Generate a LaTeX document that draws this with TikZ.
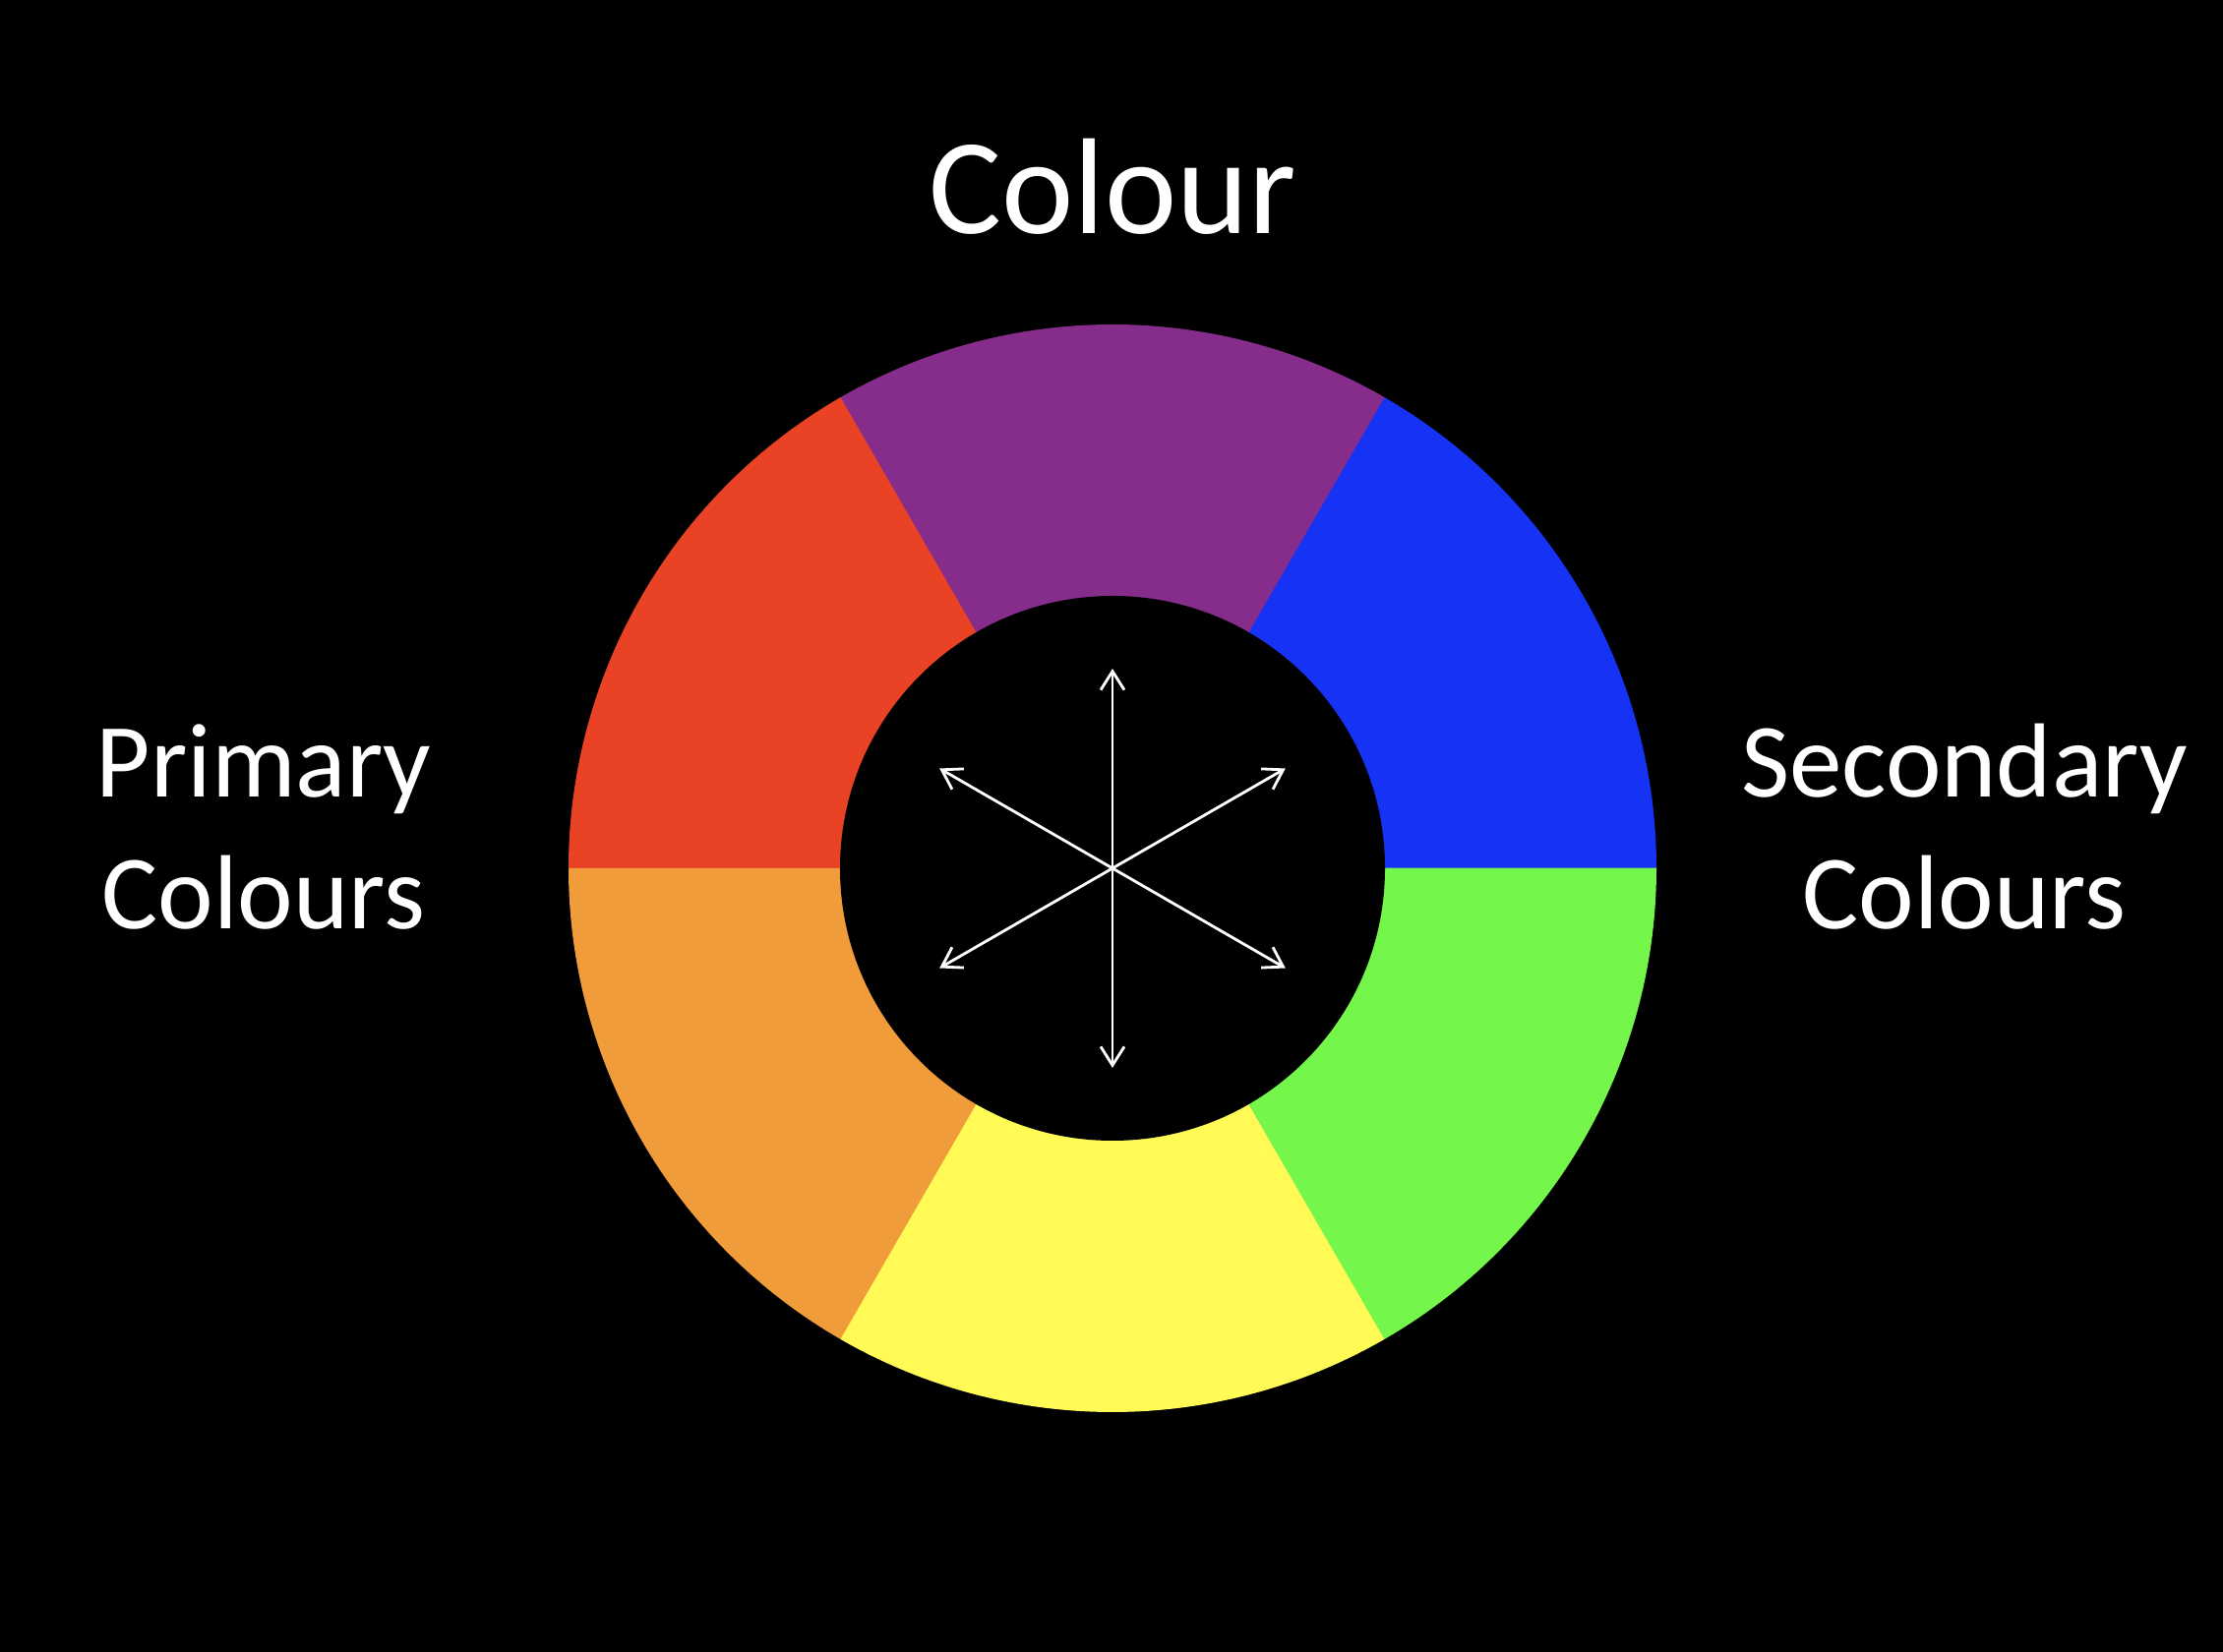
\documentclass[tikz,border=0pt]{standalone}
\usepackage{fontspec}
\setmainfont{Carlito}
\usetikzlibrary{arrows.meta,calc}
\definecolor{cpurple}{RGB}{134,45,140}
\definecolor{cblue}{RGB}{22,50,245}
\definecolor{cred}{RGB}{233,66,37}
\definecolor{corange}{RGB}{240,156,58}
\definecolor{cyellow}{RGB}{255,250,85}
\definecolor{cgreen}{RGB}{116,247,74}
\tikzset{
  bigtitle/.style={text=white, font=\fontsize{39.5}{47}\selectfont, anchor=base, inner sep=0pt},
  sidelabel/.style={text=white, font=\fontsize{30.5}{38}\selectfont, anchor=base, inner sep=0pt},
  whitearrow/.style={draw=white, line width=0.8pt, {Straight Barb[length=0.19cm,width=0.24cm]}-{Straight Barb[length=0.19cm,width=0.24cm]}}
}
\begin{document}
\begin{tikzpicture}
\fill[black] (0,0) rectangle (22.6,16.8);
\useasboundingbox (0,0) rectangle (22.6,16.8);
\coordinate (c) at (11.31,7.97);
% ring segments
\foreach \a/\col in {0/cblue,60/cpurple,120/cred,180/corange,240/cyellow,300/cgreen}{
  \fill[\col] (c) -- ++(\a:5.53cm) arc[start angle=\a, end angle=\a+60.05, radius=5.53cm] -- cycle;
}
\fill[black] (c) circle[radius=2.77cm];
% arrows
\foreach \a in {90,270,30,150,210,330}{
  \coordinate (t\a) at ($(c)+(\a:2.03cm)$);
}
\draw[whitearrow] (t90) -- (t270);
\draw[whitearrow] (t30) -- (t210);
\draw[whitearrow] (t150) -- (t330);
% labels
\node[bigtitle] (title) at (11.31,14.42) {Colour};
\node[sidelabel] (prim1) at (2.68,8.69) {Primary};
\node[sidelabel] (prim2) at (2.68,7.35) {Colours};
\node[sidelabel] (sec1) at (19.97,8.69) {Secondary};
\node[sidelabel] (sec2) at (19.97,7.35) {Colours};
\end{tikzpicture}
\end{document}
